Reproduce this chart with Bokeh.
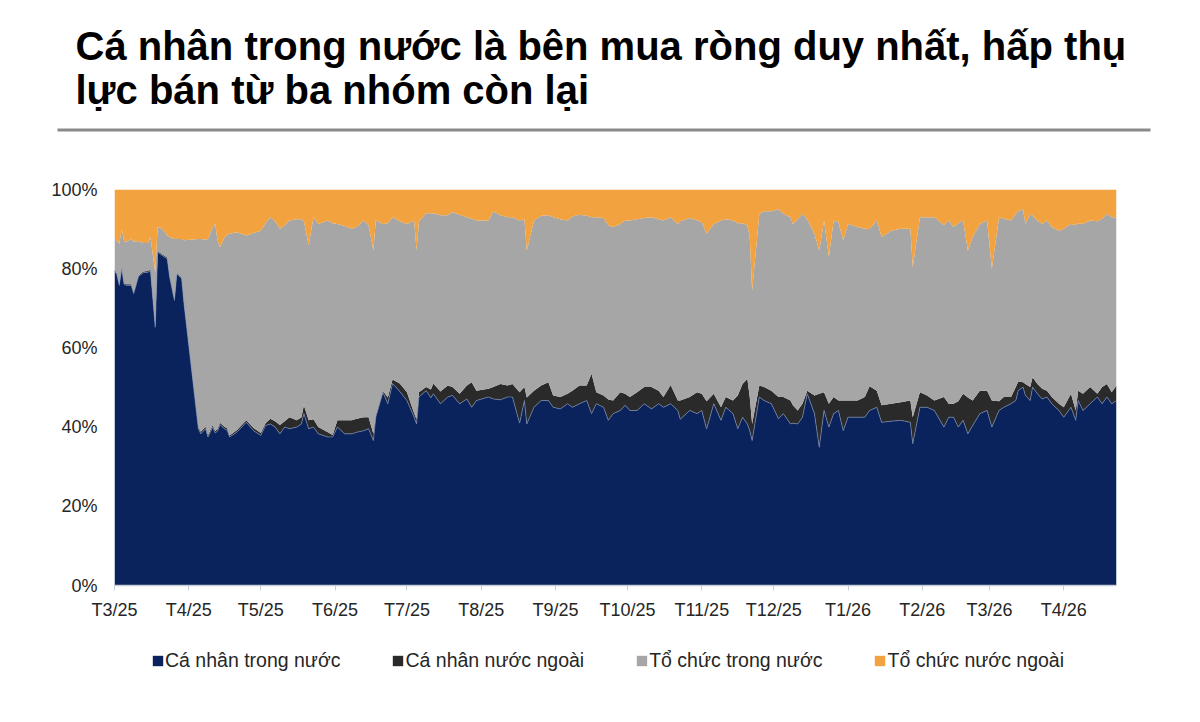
import pandas as pd
from bokeh.plotting import figure
from bokeh.layouts import column
from bokeh.models import ColumnDataSource, Range1d, FixedTicker, Legend, LegendItem
from bokeh.core.properties import value
from bokeh.embed import file_html
from bokeh.resources import INLINE

# ---------------- data (% of trading value) ----------------
dates = [
    "2025-03-03", "2025-03-04", "2025-03-05", "2025-03-06", "2025-03-07", "2025-03-08", "2025-03-10", "2025-03-11", "2025-03-13", "2025-03-15",
    "2025-03-17", "2025-03-18", "2025-03-20", "2025-03-21", "2025-03-23", "2025-03-25", "2025-03-26", "2025-03-28", "2025-03-29", "2025-03-31",
    "2025-04-01", "2025-04-07", "2025-04-08", "2025-04-10", "2025-04-11", "2025-04-13", "2025-04-14", "2025-04-15", "2025-04-16", "2025-04-18",
    "2025-04-19", "2025-04-20", "2025-04-23", "2025-04-27", "2025-04-30", "2025-05-03", "2025-05-05", "2025-05-07", "2025-05-09", "2025-05-11",
    "2025-05-13", "2025-05-15", "2025-05-18", "2025-05-20", "2025-05-21", "2025-05-23", "2025-05-25", "2025-05-27", "2025-05-31", "2025-06-02",
    "2025-06-04", "2025-06-07", "2025-06-10", "2025-06-12", "2025-06-15", "2025-06-17", "2025-06-19", "2025-06-20", "2025-06-23", "2025-06-25",
    "2025-06-27", "2025-06-30", "2025-07-03", "2025-07-06", "2025-07-07", "2025-07-08", "2025-07-11", "2025-07-13", "2025-07-14", "2025-07-17",
    "2025-07-20", "2025-07-22", "2025-07-25", "2025-07-28", "2025-07-30", "2025-08-01", "2025-08-06", "2025-08-08", "2025-08-11", "2025-08-14",
    "2025-08-16", "2025-08-19", "2025-08-21", "2025-08-22", "2025-08-25", "2025-08-28", "2025-08-31", "2025-09-02", "2025-09-05", "2025-09-08",
    "2025-09-10", "2025-09-13", "2025-09-16", "2025-09-18", "2025-09-20", "2025-09-23", "2025-09-25", "2025-09-27", "2025-09-30", "2025-10-02",
    "2025-10-04", "2025-10-07", "2025-10-10", "2025-10-13", "2025-10-16", "2025-10-18", "2025-10-21", "2025-10-24", "2025-10-25", "2025-10-29",
    "2025-11-01", "2025-11-03", "2025-11-05", "2025-11-08", "2025-11-11", "2025-11-13", "2025-11-16", "2025-11-18", "2025-11-20", "2025-11-22",
    "2025-11-23", "2025-11-24", "2025-11-27", "2025-11-29", "2025-12-02", "2025-12-05", "2025-12-07", "2025-12-10", "2025-12-11", "2025-12-13",
    "2025-12-15", "2025-12-17", "2025-12-20", "2025-12-22", "2025-12-24", "2025-12-26", "2025-12-28", "2025-12-30", "2026-01-01", "2026-01-03",
    "2026-01-07", "2026-01-10", "2026-01-12", "2026-01-15", "2026-01-17", "2026-01-21", "2026-01-25", "2026-01-29", "2026-01-30", "2026-02-02",
    "2026-02-05", "2026-02-08", "2026-02-12", "2026-02-14", "2026-02-16", "2026-02-18", "2026-02-20", "2026-02-22", "2026-02-24", "2026-02-27",
    "2026-03-02", "2026-03-04", "2026-03-07", "2026-03-09", "2026-03-12", "2026-03-14", "2026-03-15", "2026-03-17", "2026-03-18", "2026-03-20",
    "2026-03-21", "2026-03-23", "2026-03-25", "2026-03-27", "2026-03-29", "2026-04-01", "2026-04-03", "2026-04-06", "2026-04-08", "2026-04-09",
    "2026-04-11", "2026-04-14", "2026-04-17", "2026-04-19", "2026-04-21", "2026-04-23", "2026-04-25",
]

ca_nhan_trong_nuoc = [
    79.5, 78.5, 75.8, 80.0, 76.0, 75.8, 75.8, 73.7, 78.0, 79.0,
    79.1, 79.5, 65.2, 84.2, 83.3, 82.5, 77.9, 72.0, 78.7, 77.5,
    71.1, 39.5, 38.3, 39.6, 37.5, 40.0, 38.5, 39.0, 40.6, 39.5,
    39.2, 37.5, 38.7, 41.2, 39.1, 37.9, 40.4, 40.8, 40.0, 38.3,
    40.0, 39.6, 40.0, 40.8, 43.4, 39.6, 40.0, 38.3, 37.5, 37.5,
    40.0, 38.3, 38.3, 38.7, 39.1, 39.6, 36.6, 42.5, 48.8, 45.9,
    51.0, 49.0, 46.7, 42.5, 40.8, 47.6, 49.2, 47.4, 48.4, 45.9,
    47.6, 48.0, 45.9, 47.1, 45.0, 46.7, 47.6, 47.1, 46.9, 47.6,
    47.6, 41.0, 46.7, 40.8, 45.0, 46.7, 46.7, 45.0, 44.6, 45.9,
    45.0, 45.9, 46.7, 43.4, 45.9, 45.0, 41.7, 43.4, 44.2, 45.5,
    44.2, 44.2, 45.9, 44.6, 45.9, 45.0, 45.9, 44.2, 42.0, 44.2,
    43.4, 44.2, 39.5, 45.9, 41.7, 45.0, 43.4, 39.6, 42.5, 40.8,
    39.1, 36.6, 47.6, 46.7, 45.9, 42.1, 43.4, 40.8, 41.0, 40.8,
    42.5, 48.4, 43.4, 34.9, 44.2, 40.0, 43.4, 44.2, 39.1, 42.5,
    42.5, 42.5, 44.2, 45.0, 41.2, 41.5, 41.7, 41.2, 35.8, 45.0,
    45.0, 44.2, 40.0, 42.5, 42.5, 40.0, 41.7, 38.3, 40.4, 43.4,
    44.2, 40.0, 44.2, 45.0, 45.9, 46.7, 49.2, 50.1, 48.0, 46.7,
    50.1, 48.4, 47.1, 47.6, 45.9, 44.2, 42.5, 45.0, 41.7, 46.7,
    44.2, 45.9, 47.6, 45.9, 47.6, 45.9, 46.7,
]

ca_nhan_nuoc_ngoai = [
    0.3, 0.3, 0.3, 0.3, 0.3, 0.3, 0.3, 0.3, 0.3, 0.3,
    0.3, 0.3, 0.3, 0.3, 0.3, 0.3, 0.3, 0.3, 0.3, 0.3,
    0.3, 0.5, 0.5, 0.5, 0.5, 0.5, 0.5, 0.5, 0.5, 0.5,
    0.5, 0.4, 0.5, 0.5, 0.7, 0.6, 0.6, 1.3, 1.5, 2.2,
    1.5, 2.9, 1.7, 1.7, 2.1, 2.1, 2.0, 1.7, 1.2, 0.5,
    1.7, 3.4, 3.4, 3.4, 3.4, 2.9, 1.7, 0.5, 0.4, 1.6,
    1.0, 2.0, 2.1, 1.0, 1.2, 1.2, 0.9, 2.1, 2.6, 3.1,
    2.9, 2.1, 2.5, 3.4, 6.3, 2.5, 2.1, 3.0, 4.0, 2.9,
    3.3, 7.8, 3.4, 6.7, 4.2, 3.8, 4.6, 3.0, 3.0, 2.5,
    4.2, 4.6, 3.8, 10.1, 2.9, 3.0, 5.3, 3.3, 4.6, 2.9,
    3.4, 4.6, 4.2, 5.5, 3.3, 2.6, 4.7, 2.5, 4.7, 3.4,
    5.4, 4.2, 7.0, 2.5, 3.3, 2.6, 3.3, 8.4, 8.4, 11.4,
    8.5, 4.2, 2.9, 3.4, 3.3, 5.5, 4.2, 5.9, 4.5, 3.4,
    3.4, 0.8, 4.6, 13.5, 4.6, 5.9, 4.2, 2.5, 7.6, 4.2,
    4.2, 5.1, 6.1, 4.2, 4.3, 4.4, 4.6, 5.5, 6.7, 3.8,
    3.0, 2.5, 7.6, 3.4, 3.4, 6.5, 6.7, 9.2, 6.3, 5.8,
    5.0, 6.7, 2.3, 2.6, 1.7, 3.4, 2.3, 1.2, 2.9, 3.4,
    2.5, 2.5, 2.6, 1.6, 1.7, 1.7, 2.5, 3.4, 2.5, 2.5,
    4.2, 4.2, 0.8, 4.2, 3.3, 2.9, 3.8,
]

to_chuc_trong_nuoc = [
    8.2, 8.2, 10.2, 9.7, 10.7, 10.7, 11.4, 12.8, 8.7, 7.2,
    7.1, 8.2, 13.5, 6.0, 6.4, 5.6, 9.8, 15.2, 8.5, 9.7,
    15.8, 47.5, 48.7, 47.2, 49.5, 50.0, 52.3, 47.6, 44.3, 48.0,
    48.8, 50.9, 50.0, 46.7, 49.2, 51.1, 50.5, 50.9, 50.5, 49.6,
    49.5, 49.7, 50.8, 50.0, 46.5, 44.2, 51.0, 51.3, 53.5, 53.5,
    49.6, 49.1, 48.4, 48.4, 49.7, 48.5, 46.3, 49.2, 42.1, 44.0,
    41.0, 41.0, 42.5, 48.7, 42.6, 43.2, 43.9, 44.5, 43.0, 44.5,
    43.0, 44.2, 45.2, 42.5, 41.3, 43.0, 42.5, 44.4, 42.6, 42.5,
    42.1, 43.4, 42.4, 37.1, 43.0, 42.9, 42.2, 45.0, 44.9, 43.8,
    44.0, 43.1, 42.9, 39.5, 44.2, 44.8, 44.0, 43.8, 42.5, 43.8,
    44.6, 43.7, 42.7, 42.9, 43.3, 44.6, 42.4, 44.6, 45.3, 45.2,
    43.4, 43.4, 42.3, 42.9, 47.2, 44.9, 45.5, 43.5, 40.6, 38.8,
    40.4, 33.7, 43.3, 44.4, 45.3, 47.4, 46.3, 46.3, 45.8, 48.3,
    48.0, 43.3, 40.8, 36.2, 43.4, 37.1, 44.6, 45.1, 40.4, 44.6,
    43.8, 42.5, 39.7, 43.0, 42.5, 43.7, 43.8, 43.4, 37.9, 44.2,
    45.0, 46.3, 43.4, 46.3, 44.6, 45.0, 43.8, 37.1, 41.3, 42.1,
    43.0, 33.3, 46.5, 45.0, 44.6, 43.8, 43.0, 43.7, 40.4, 43.8,
    40.8, 41.3, 41.6, 43.0, 42.9, 43.7, 45.1, 42.9, 46.8, 42.3,
    42.9, 42.1, 43.6, 42.5, 43.0, 44.2, 42.5,
]

to_chuc_nuoc_ngoai = [
    12.0, 13.0, 13.7, 10.0, 13.0, 13.2, 12.5, 13.2, 13.0, 13.5,
    13.5, 12.0, 21.0, 9.5, 10.0, 11.6, 12.0, 12.5, 12.5, 12.5,
    12.8, 12.5, 12.5, 12.7, 12.5, 9.5, 8.7, 12.9, 14.6, 12.0,
    11.5, 11.2, 10.8, 11.6, 11.0, 10.4, 8.5, 7.0, 8.0, 9.9,
    9.0, 7.8, 7.5, 7.5, 8.0, 14.1, 7.0, 8.7, 7.8, 8.5,
    8.7, 9.2, 9.9, 9.5, 7.8, 9.0, 15.4, 7.8, 8.7, 8.5,
    7.0, 8.0, 8.7, 7.8, 15.4, 8.0, 6.0, 6.0, 6.0, 6.5,
    6.5, 5.7, 6.4, 7.0, 7.4, 7.8, 7.8, 5.5, 6.5, 7.0,
    7.0, 7.8, 7.5, 15.4, 7.8, 6.6, 6.5, 7.0, 7.5, 7.8,
    6.8, 6.4, 6.6, 7.0, 7.0, 7.2, 9.0, 9.5, 8.7, 7.8,
    7.8, 7.5, 7.2, 7.0, 7.5, 7.8, 7.0, 8.7, 8.0, 7.2,
    7.8, 8.2, 11.2, 8.7, 7.8, 7.5, 7.8, 8.5, 8.5, 9.0,
    12.0, 25.5, 6.2, 5.5, 5.5, 5.0, 6.1, 7.0, 8.7, 7.5,
    6.1, 7.5, 11.2, 15.4, 7.8, 17.0, 7.8, 8.2, 12.9, 8.7,
    9.5, 9.9, 10.0, 7.8, 12.0, 10.4, 9.9, 9.9, 19.6, 7.0,
    7.0, 7.0, 9.0, 7.8, 9.5, 8.5, 7.8, 15.4, 12.0, 8.7,
    7.8, 20.0, 7.0, 7.4, 7.8, 6.1, 5.5, 5.0, 8.7, 6.1,
    6.6, 7.8, 8.7, 7.8, 9.5, 10.4, 9.9, 8.7, 9.0, 8.5,
    8.7, 7.8, 8.0, 7.4, 6.1, 7.0, 7.0,
]

series_names = ["Cá nhân trong nước", "Cá nhân nước ngoài", "Tổ chức trong nước", "Tổ chức nước ngoài"]
series_colors = ["#0B235C", "#2A2A2A", "#A6A6A6", "#F2A23F"]

tick_dates = ["2025-03-03", "2025-04-03", "2025-05-03", "2025-06-03", "2025-07-03", "2025-08-03", "2025-09-03",
              "2025-10-03", "2025-11-03", "2025-12-03", "2026-01-03", "2026-02-03", "2026-03-03", "2026-04-03"]
tick_labels = ["T3/25", "T4/25", "T5/25", "T6/25", "T7/25", "T8/25", "T9/25",
               "T10/25", "T11/25", "T12/25", "T1/26", "T2/26", "T3/26", "T4/26"]
y_ticks = [0, 20, 40, 60, 80, 100]
y_tick_labels = ["0%", "20%", "40%", "60%", "80%", "100%"]

title_lines = ["Cá nhân trong nước là bên mua ròng duy nhất, hấp thụ",
               "lực bán từ ba nhóm còn lại"]

# ---------------- build ----------------
df = pd.DataFrame({
    "date": pd.to_datetime(dates),
    "s0": ca_nhan_trong_nuoc,
    "s1": ca_nhan_nuoc_ngoai,
    "s2": to_chuc_trong_nuoc,
    "s3": to_chuc_nuoc_ngoai,
})
total = df[["s0", "s1", "s2", "s3"]].sum(axis=1)
for c in ["s0", "s1", "s2", "s3"]:
    df[c] = df[c] / total * 100.0
source = ColumnDataSource(df)

FONT = "Liberation Sans"
W = 1200
TITLE_H, MAIN_H, LEG_H = 140, 500, 82


def no_frame_align(f):
    try:
        f.frame_align = False
    except Exception:
        pass


def bare_figure(height):
    f = figure(width=W, height=height, output_backend="svg", toolbar_location=None,
               x_range=Range1d(0, W), y_range=Range1d(height, 0),
               x_axis_location=None, y_axis_location=None,
               min_border=0, min_border_left=0, min_border_right=0,
               min_border_top=0, min_border_bottom=0)
    f.grid.visible = False
    f.outline_line_color = None
    f.background_fill_color = "white"
    f.border_fill_color = "white"
    no_frame_align(f)
    return f


# ---- title block (pixel coordinates, y measured from the top of the block) ----
pt = bare_figure(TITLE_H)
pt.text(x=[75, 75], y=[45, 89], text=title_lines,
        text_font=value(FONT), text_font_style="bold", text_font_size="40px",
        text_color="black", text_baseline="alphabetic", text_align="left")
pt.quad(left=[57], right=[1150], top=[128], bottom=[131], fill_color="#8a8a8a", line_color=None)

# ---- main chart ----
p = figure(width=W, height=MAIN_H, output_backend="svg", toolbar_location=None,
           x_axis_type="datetime",
           x_range=Range1d(df["date"].iloc[0], df["date"].iloc[-1]),
           y_range=Range1d(0, 100),
           min_border_left=114, min_border_right=84, min_border_top=49, min_border_bottom=55)
p.background_fill_color = "white"
p.border_fill_color = "white"
p.outline_line_color = None
p.grid.visible = False
no_frame_align(p)

rs = p.varea_stack(stackers=["s0", "s1", "s2", "s3"], x="date", color=series_colors, source=source)
p.line(x="date", y="s0", source=source, line_color="#7d8fb8", line_width=0.8, line_alpha=0.8)

tick_ms = [int(pd.Timestamp(d).value // 10**6) for d in tick_dates]
p.xaxis.ticker = FixedTicker(ticks=tick_ms)
p.xaxis.major_label_overrides = {t: l for t, l in zip(tick_ms, tick_labels)}
p.xaxis.axis_line_color = "#c5cdd8"
p.xaxis.axis_line_width = 1.5
p.xaxis.major_tick_line_color = "#c5cdd8"
p.xaxis.major_tick_in = 0
p.xaxis.major_tick_out = 5
p.xaxis.minor_tick_line_color = None
p.xaxis.major_label_standoff = 9
p.xaxis.major_label_text_font = FONT
p.xaxis.major_label_text_font_size = "18px"
p.xaxis.major_label_text_color = "#262626"

p.yaxis.ticker = FixedTicker(ticks=y_ticks)
p.yaxis.major_label_overrides = {t: l for t, l in zip(y_ticks, y_tick_labels)}
p.yaxis.axis_line_color = None
p.yaxis.major_tick_line_color = None
p.yaxis.minor_tick_line_color = None
p.yaxis.major_tick_out = 0
p.yaxis.major_tick_in = 0
p.yaxis.major_label_standoff = 17
p.yaxis.major_label_text_font = FONT
p.yaxis.major_label_text_font_size = "18px"
p.yaxis.major_label_text_color = "#262626"

# ---- legend block (zero-size swatch renderers only carry the legend colours) ----
pl = bare_figure(LEG_H)
leg_renderers = [pl.quad(left=[0], right=[0], top=[0], bottom=[0], fill_color=c, line_color=None)
                 for c in series_colors]
legend = Legend(items=[LegendItem(label=n, renderers=[r]) for n, r in zip(series_names, leg_renderers)],
                orientation="horizontal", location=(151, 50),
                glyph_width=13, glyph_height=13, label_standoff=1, spacing=51,
                padding=0, margin=0, border_line_color=None, background_fill_alpha=0,
                label_text_font=FONT, label_text_font_size="19.5px", label_text_color="#262626")
pl.add_layout(legend, "center")

layout = column(pt, p, pl, spacing=0)
open("out.html", "w").write(file_html(layout, INLINE))
